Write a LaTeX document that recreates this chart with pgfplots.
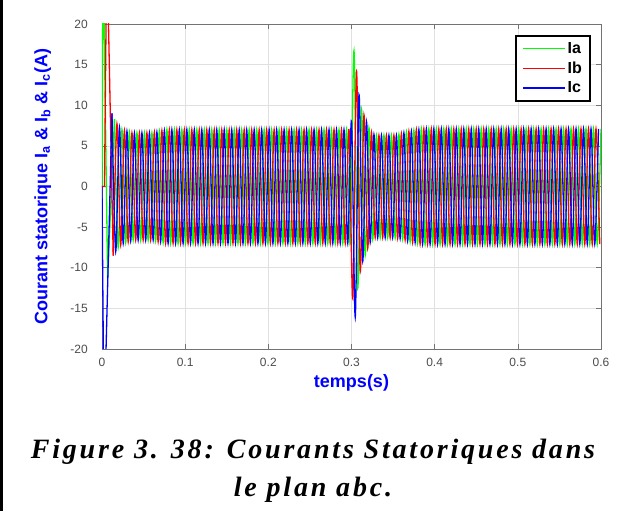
\documentclass[border=0pt]{standalone}
\usepackage{pgfplots}
\pgfplotsset{compat=1.18}
\usepackage{fontspec}
\setmainfont{Liberation Sans}
\newfontfamily\capfont[LetterSpace=10]{Liberation Serif}
\definecolor{mgreen}{rgb}{0,1,0}
\definecolor{mred}{rgb}{1,0,0}
\definecolor{mblue}{rgb}{0,0,1}
\begin{document}
\begin{tikzpicture}
\path[use as bounding box] (0,0) rectangle (619pt,511pt);
\fill[black] (0,0) rectangle (2.5pt,511pt);
\begin{axis}[
  at={(102pt,162pt)}, anchor=south west,
  scale only axis, width=499pt, height=325pt,
  xmin=0, xmax=0.6, ymin=-20, ymax=20,
  xtick={0,0.1,0.2,0.3,0.4,0.5,0.6},
  ytick={-20,-15,-10,-5,0,5,10,15,20},
  /pgf/number format/assume math mode=true,
  tick label style={font=\fontsize{12}{14}\selectfont, text=black!70},
  xticklabel style={inner sep=0pt, anchor=north, yshift=-9pt},
  yticklabel style={inner sep=0pt, anchor=east, xshift=-14pt},
  tick align=inside, xtick pos=both, ytick pos=both,
  major tick length=5pt,
  every tick/.style={black!55, line width=0.6pt},
  axis line style={black!55, line width=0.8pt},
  grid=major, major grid style={black!12, line width=0.5pt},
  xlabel={temps(s)},
  ylabel={Courant statorique I\textsubscript{a} \& I\textsubscript{b} \& I\textsubscript{c}(A)},
  label style={font=\fontsize{18}{20}\selectfont\bfseries, text=mblue},
  xlabel style={at={(axis description cs:0.5,-0.105)}, anchor=center},
  ylabel style={at={(axis description cs:-0.119,0.5)}, anchor=center},
  legend style={name=leg, at={(rel axis cs:0.978,0.963)}, anchor=north east, draw=none, fill=white, inner xsep=6pt, inner ysep=4pt, row sep=3pt, font=\fontsize{16}{18}\selectfont\bfseries, cells={anchor=west}},
  legend image code/.code={\draw[#1] (0pt,0pt) -- (42pt,0pt);},
  legend entries={Ia,Ib,Ic},
]
\addlegendimage{mgreen, line width=1.2pt}
\addlegendimage{mred, line width=1.2pt}
\addlegendimage{mblue, line width=1.2pt}
% Ia
\addplot[mgreen, line width=1.3pt, forget plot] coordinates {(0,0)(0.0012,30)(0.0068,-11.3)(0.0150,8.3)};
\addplot[mgreen, line width=1.3pt, smooth, forget plot] coordinates {
(0.0150,8.3)(0.0195,-7.5)(0.0240,7.0)(0.0285,-6.9)(0.0330,6.7)(0.0375,-6.6)(0.0420,6.6)(0.0465,-6.6)(0.0510,6.6)(0.0555,-6.6)(0.0600,6.6)(0.0645,-6.7)(0.0690,6.8)(0.0735,-6.9)(0.0780,7.0)(0.0825,-7.0)(0.0870,7)(0.0915,-7)(0.0960,7)(0.1005,-7)(0.1050,7)(0.1095,-7)(0.1140,7)(0.1185,-7)(0.1230,7)(0.1275,-7)(0.1320,7)(0.1365,-7)(0.1410,7)(0.1455,-7)(0.1500,7)(0.1545,-7)(0.1590,7)(0.1635,-7)(0.1680,7)(0.1725,-7)(0.1770,7)(0.1815,-7)(0.1860,7)(0.1905,-7)(0.1950,7)(0.1995,-7)(0.2040,7)(0.2085,-7)(0.2130,7)(0.2175,-7)(0.2220,7)(0.2265,-7)(0.2310,7)(0.2355,-7)(0.2400,7)(0.2445,-7)(0.2490,7)(0.2535,-7)(0.2580,7)(0.2625,-7)(0.2670,7)(0.2715,-7)(0.2760,7)(0.2805,-7)(0.2850,7)(0.2895,-7)(0.2940,7)(0.2985,-7)(0.3030,16.7)(0.3075,-12.5)(0.3120,9.5)(0.3165,-8.5)(0.3210,7.2)(0.3255,-6.5)(0.3300,6.3)(0.3345,-6.3)(0.3390,6.3)(0.3435,-6.3)(0.3480,6.3)(0.3525,-6.3)(0.3570,6.4)(0.3615,-6.5)(0.3660,6.7)(0.3705,-6.8)(0.3750,6.9)(0.3795,-7.0)(0.3840,7.1)(0.3885,-7.1)(0.3930,7.1)(0.3975,-7.1)(0.4020,7.1)(0.4065,-7.1)(0.4110,7.1)(0.4155,-7.1)(0.4200,7.1)(0.4245,-7.1)(0.4290,7.1)(0.4335,-7.1)(0.4380,7.1)(0.4425,-7.1)(0.4470,7.1)(0.4515,-7.1)(0.4560,7.1)(0.4605,-7.1)(0.4650,7.1)(0.4695,-7.1)(0.4740,7.1)(0.4785,-7.1)(0.4830,7.1)(0.4875,-7.1)(0.4920,7.1)(0.4965,-7.1)(0.5010,7.1)(0.5055,-7.1)(0.5100,7.1)(0.5145,-7.1)(0.5190,7.1)(0.5235,-7.1)(0.5280,7.1)(0.5325,-7.1)(0.5370,7.1)(0.5415,-7.1)(0.5460,7.1)(0.5505,-7.1)(0.5550,7.1)(0.5595,-7.1)(0.5640,7.1)(0.5685,-7.1)(0.5730,7.1)(0.5775,-7.1)(0.5820,7.1)(0.5865,-7.1)(0.5910,7.1)(0.5955,-7.1)(0.6000,7.1)};
% Ib
\addplot[mred, line width=1.3pt, forget plot] coordinates {(0,0)(0.0030,0)(0.0058,30)(0.0135,-8.5)};
\addplot[mred, line width=1.3pt, smooth, forget plot] coordinates {
(0.0135,-8.5)(0.0180,7.7)(0.0225,-7.2)(0.0270,6.9)(0.0315,-6.8)(0.0360,6.6)(0.0405,-6.6)(0.0450,6.6)(0.0495,-6.6)(0.0540,6.6)(0.0585,-6.6)(0.0630,6.7)(0.0675,-6.8)(0.0720,6.9)(0.0765,-7.0)(0.0810,7)(0.0855,-7)(0.0900,7)(0.0945,-7)(0.0990,7)(0.1035,-7)(0.1080,7)(0.1125,-7)(0.1170,7)(0.1215,-7)(0.1260,7)(0.1305,-7)(0.1350,7)(0.1395,-7)(0.1440,7)(0.1485,-7)(0.1530,7)(0.1575,-7)(0.1620,7)(0.1665,-7)(0.1710,7)(0.1755,-7)(0.1800,7)(0.1845,-7)(0.1890,7)(0.1935,-7)(0.1980,7)(0.2025,-7)(0.2070,7)(0.2115,-7)(0.2160,7)(0.2205,-7)(0.2250,7)(0.2295,-7)(0.2340,7)(0.2385,-7)(0.2430,7)(0.2475,-7)(0.2520,7)(0.2565,-7)(0.2610,7)(0.2655,-7)(0.2700,7)(0.2745,-7)(0.2790,7)(0.2835,-7)(0.2880,7)(0.2925,-7)(0.2970,7)(0.3015,-13.8)(0.3060,14.2)(0.3105,-10.5)(0.3150,8.8)(0.3195,-7.6)(0.3240,6.7)(0.3285,-6.3)(0.3330,6.3)(0.3375,-6.3)(0.3420,6.3)(0.3465,-6.3)(0.3510,6.3)(0.3555,-6.4)(0.3600,6.5)(0.3645,-6.6)(0.3690,6.8)(0.3735,-6.9)(0.3780,7.0)(0.3825,-7.1)(0.3870,7.1)(0.3915,-7.1)(0.3960,7.1)(0.4005,-7.1)(0.4050,7.1)(0.4095,-7.1)(0.4140,7.1)(0.4185,-7.1)(0.4230,7.1)(0.4275,-7.1)(0.4320,7.1)(0.4365,-7.1)(0.4410,7.1)(0.4455,-7.1)(0.4500,7.1)(0.4545,-7.1)(0.4590,7.1)(0.4635,-7.1)(0.4680,7.1)(0.4725,-7.1)(0.4770,7.1)(0.4815,-7.1)(0.4860,7.1)(0.4905,-7.1)(0.4950,7.1)(0.4995,-7.1)(0.5040,7.1)(0.5085,-7.1)(0.5130,7.1)(0.5175,-7.1)(0.5220,7.1)(0.5265,-7.1)(0.5310,7.1)(0.5355,-7.1)(0.5400,7.1)(0.5445,-7.1)(0.5490,7.1)(0.5535,-7.1)(0.5580,7.1)(0.5625,-7.1)(0.5670,7.1)(0.5715,-7.1)(0.5760,7.1)(0.5805,-7.1)(0.5850,7.1)(0.5895,-7.1)(0.5940,7.1)(0.5985,-7.1)};
% Ic
\addplot[mblue, line width=1.3pt, forget plot] coordinates {(0,0)(0.0024,-30)(0.0120,9.0)};
\addplot[mblue, line width=1.3pt, smooth, forget plot] coordinates {
(0.0120,9.0)(0.0165,-8.0)(0.0210,7.3)(0.0255,-7.0)(0.0300,6.8)(0.0345,-6.7)(0.0390,6.6)(0.0435,-6.6)(0.0480,6.6)(0.0525,-6.6)(0.0570,6.6)(0.0615,-6.6)(0.0660,6.7)(0.0705,-6.8)(0.0750,6.9)(0.0795,-7.0)(0.0840,7)(0.0885,-7)(0.0930,7)(0.0975,-7)(0.1020,7)(0.1065,-7)(0.1110,7)(0.1155,-7)(0.1200,7)(0.1245,-7)(0.1290,7)(0.1335,-7)(0.1380,7)(0.1425,-7)(0.1470,7)(0.1515,-7)(0.1560,7)(0.1605,-7)(0.1650,7)(0.1695,-7)(0.1740,7)(0.1785,-7)(0.1830,7)(0.1875,-7)(0.1920,7)(0.1965,-7)(0.2010,7)(0.2055,-7)(0.2100,7)(0.2145,-7)(0.2190,7)(0.2235,-7)(0.2280,7)(0.2325,-7)(0.2370,7)(0.2415,-7)(0.2460,7)(0.2505,-7)(0.2550,7)(0.2595,-7)(0.2640,7)(0.2685,-7)(0.2730,7)(0.2775,-7)(0.2820,7)(0.2865,-7)(0.2910,7)(0.2955,-7)(0.3000,8.0)(0.3045,-16.1)(0.3090,11.3)(0.3135,-9.2)(0.3180,8.0)(0.3225,-6.9)(0.3270,6.4)(0.3315,-6.3)(0.3360,6.3)(0.3405,-6.3)(0.3450,6.3)(0.3495,-6.3)(0.3540,6.3)(0.3585,-6.4)(0.3630,6.6)(0.3675,-6.7)(0.3720,6.8)(0.3765,-6.9)(0.3810,7.0)(0.3855,-7.1)(0.3900,7.1)(0.3945,-7.1)(0.3990,7.1)(0.4035,-7.1)(0.4080,7.1)(0.4125,-7.1)(0.4170,7.1)(0.4215,-7.1)(0.4260,7.1)(0.4305,-7.1)(0.4350,7.1)(0.4395,-7.1)(0.4440,7.1)(0.4485,-7.1)(0.4530,7.1)(0.4575,-7.1)(0.4620,7.1)(0.4665,-7.1)(0.4710,7.1)(0.4755,-7.1)(0.4800,7.1)(0.4845,-7.1)(0.4890,7.1)(0.4935,-7.1)(0.4980,7.1)(0.5025,-7.1)(0.5070,7.1)(0.5115,-7.1)(0.5160,7.1)(0.5205,-7.1)(0.5250,7.1)(0.5295,-7.1)(0.5340,7.1)(0.5385,-7.1)(0.5430,7.1)(0.5475,-7.1)(0.5520,7.1)(0.5565,-7.1)(0.5610,7.1)(0.5655,-7.1)(0.5700,7.1)(0.5745,-7.1)(0.5790,7.1)(0.5835,-7.1)(0.5880,7.1)(0.5925,-7.1)(0.5970,7.1)};
\end{axis}
\draw[black, line width=2pt] (leg.south west) rectangle (leg.north east);
\node[anchor=base, font=\capfont\bfseries\itshape\fontsize{28}{32}\selectfont] at (313pt,52pt) {Figure 3. 38: Courants Statoriques dans};
\node[anchor=base, font=\capfont\bfseries\itshape\fontsize{28}{32}\selectfont] at (313pt,14pt) {le plan abc.};
\end{tikzpicture}
\end{document}
